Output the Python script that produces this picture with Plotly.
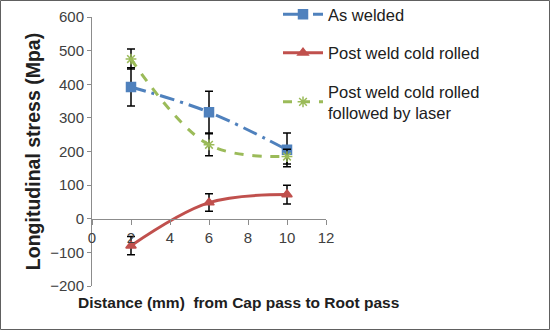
import plotly.graph_objects as go

x_vals = [2, 6, 10]
as_welded = [392, 317, 205]
as_welded_err = [57, 62, 50]
cold_rolled = [-80, 48, 72]
cold_rolled_err = [27, 26, 28]
laser = [475, 220, 185]
laser_err = [30, 33, 22]

x_ticks = [0, 2, 4, 6, 8, 10, 12]
y_ticks = [-200, -100, 0, 100, 200, 300, 400, 500, 600]

W, H = 550, 330
L, R, T, B = 92, 224, 17, 44
pw, ph = W - L - R, H - T - B

fig = go.Figure()

def add(name, y, err, color, dash, symbol, group):
    fig.add_trace(go.Scatter(
        x=x_vals, y=y, name=name, mode="lines+markers",
        line=dict(color=color, width=3, dash=dash, shape="spline", smoothing=1),
        marker=dict(symbol=symbol, size=9, color=color,
                    line=dict(color=color, width=1.5)),
        error_y=dict(type="data", array=err, visible=True, color="black",
                     thickness=1.5, width=4),
        legendgroup=group,
    ))

add("As welded", as_welded, as_welded_err, "#4F81BD", "longdashdot", "square", "a")
add("Post weld cold rolled", cold_rolled, cold_rolled_err, "#C0504D", "solid", "triangle-up", "b")
add("Post weld cold rolled<br>followed by laser", laser, laser_err, "#9BBB59", "dash", "asterisk-open", "c")

font_family = "Liberation Sans, Arial, sans-serif"

fig.update_layout(
    width=W, height=H,
    margin=dict(l=L, r=R, t=T, b=B, autoexpand=False),
    paper_bgcolor="white", plot_bgcolor="white",
    font=dict(family=font_family, size=15, color="#404040"),
    showlegend=True,
    legend=dict(x=(278 - L) / pw, y=1 + (T + 3) / ph, xanchor="left", yanchor="top",
                font=dict(size=16.5, color="#202020"), bgcolor="rgba(0,0,0,0)",
                tracegroupgap=14, itemwidth=40),
    xaxis=dict(range=[0, 12], tickvals=x_ticks, ticktext=[str(v) for v in x_ticks],
               showgrid=False, zeroline=False, showline=True, linecolor="#8C8C8C",
               linewidth=1, ticks="outside", ticklen=5, tickcolor="#8C8C8C",
               anchor="free", position=0.25, tickfont=dict(size=15, color="#404040")),
    yaxis=dict(range=[-200, 600], tickvals=y_ticks, domain=[0, 1],
               showgrid=False, zeroline=False, showline=True, linecolor="#8C8C8C",
               linewidth=1, ticks="outside", ticklen=4, tickcolor="#8C8C8C",
               tickfont=dict(size=15, color="#404040"),
               title=dict(text="<b>Longitudinal stress (Mpa)</b>",
                          font=dict(size=19.5, color="#202020"), standoff=4)),
)

fig.add_annotation(text="<b>Distance (mm)  from Cap pass to Root pass</b>",
                   xref="paper", yref="paper",
                   x=(76 - L) / pw, y=(H - B - 302) / ph,
                   xanchor="left", yanchor="middle", showarrow=False,
                   font=dict(size=15.5, color="#202020", family=font_family))

fig.add_shape(type="rect", xref="paper", yref="paper",
              x0=(0.5 - L) / pw, x1=(W - 0.5 - L) / pw,
              y0=(H - B - (H - 0.5)) / ph, y1=(H - B - 0.5) / ph,
              line=dict(color="#606060", width=1), fillcolor="rgba(0,0,0,0)", layer="below")

fig.write_html("out.html", config={"displayModeBar": False},
               post_script="document.body.style.margin='0';document.body.style.overflow='hidden';")
